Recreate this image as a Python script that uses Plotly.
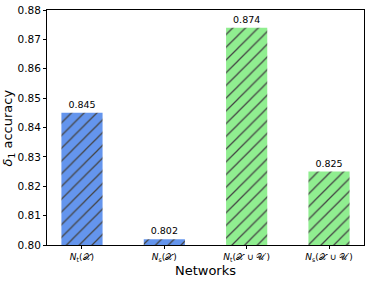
import plotly.graph_objects as go

categories = ["<i>N</i><sub>t</sub>(𝒳)", "<i>N</i><sub>s</sub>(𝒳)",
              "<i>N</i><sub>t</sub>(𝒳 ∪ 𝒰′)", "<i>N</i><sub>s</sub>(𝒳 ∪ 𝒰′)"]
values = [0.845, 0.802, 0.874, 0.825]
colors = ["#6495ED", "#6495ED", "#90EE90", "#90EE90"]
yticks = [0.80, 0.81, 0.82, 0.83, 0.84, 0.85, 0.86, 0.87, 0.88]

fig = go.Figure()
fig.add_trace(go.Bar(
    x=list(range(len(categories))), y=values, width=0.5,
    marker=dict(color=colors, line=dict(width=0),
                pattern=dict(shape="/", fgcolor="black", fgopacity=1,
                             size=9, solidity=0.14, fillmode="overlay")),
    text=[f"{v:.3f}" for v in values], textposition="outside",
    textfont=dict(size=9.5, color="black"), cliponaxis=False,
))
fig.add_annotation(text="<i>δ</i><sub>1</sub> accuracy", textangle=-90,
                   xref="paper", yref="paper", x=-0.12, y=0.5,
                   xanchor="center", yanchor="middle", showarrow=False,
                   font=dict(size=13, color="black"))
fig.update_layout(
    width=374, height=282, margin=dict(l=47, r=10, t=10, b=37, autoexpand=False),
    plot_bgcolor="white", paper_bgcolor="white",
    font=dict(family="DejaVu Sans", color="black", size=10),
    showlegend=False,
    xaxis=dict(tickmode="array", tickvals=list(range(len(categories))), ticktext=categories,
               range=[-0.425, 3.425], showline=True, linecolor="black", linewidth=1, mirror=True,
               ticks="outside", ticklen=3, tickcolor="black", showgrid=False, automargin=False,
               title=dict(text="Networks", font=dict(size=13), standoff=0), tickfont=dict(size=9)),
    yaxis=dict(range=[0.80, 0.88], tickvals=yticks, tickformat=".2f",
               showline=True, linecolor="black", linewidth=1, mirror=True,
               ticks="outside", ticklen=3, tickcolor="black", showgrid=False, zeroline=False,
               automargin=False, tickfont=dict(size=10.5)),
)
fig.write_html("out.html", config={"displayModeBar": False},
               post_script="document.body.style.margin='0';")
